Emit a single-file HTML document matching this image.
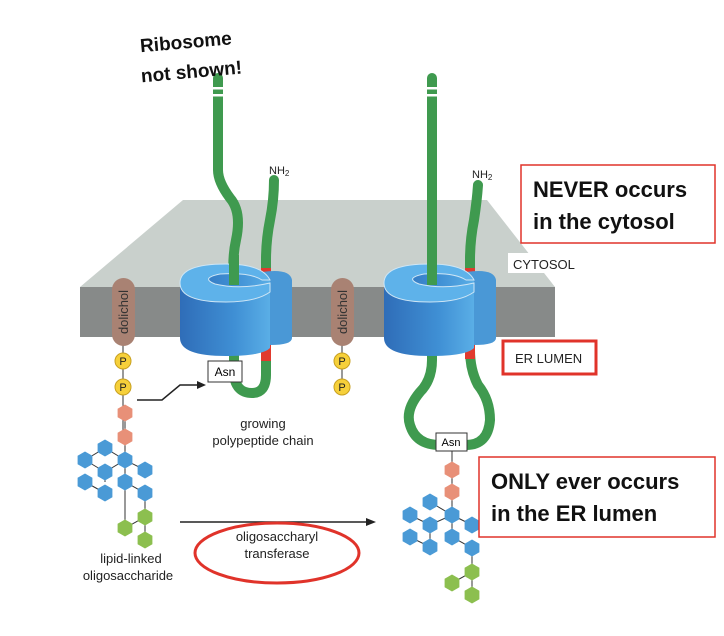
<!DOCTYPE html>
<html><head><style>
body{margin:0;background:#fff;}
svg{display:block;font-family:"Liberation Sans",sans-serif;}
</style></head><body>
<svg width="724" height="636" viewBox="0 0 724 636">
<defs>
<linearGradient id="cyl" x1="0" x2="1"><stop offset="0" stop-color="#2f6db8"/><stop offset="0.6" stop-color="#3f8fd4"/><stop offset="1" stop-color="#5aaee6"/></linearGradient>
<polygon id="hx" points="0,-8.5 7.4,-4.25 7.4,4.25 0,8.5 -7.4,4.25 -7.4,-4.25"/>
</defs>
<polygon points="80,287 183,200 487,200 555,287" fill="#c9d0cc"/>
<rect x="80" y="287" width="475" height="50" fill="#878a89"/>

<g fill="none" stroke="#3f9a4f" stroke-width="10" stroke-linecap="round">
<path d="M218,78 V170 Q218,182 230,198 Q242,212 236,240 Q232,258 234,280 V375 Q236,393 252,393 Q266,393 266,375 V260 Q266,240 270,220 Q274,200 274,180"/>
<path d="M432,78 V360 Q432,380 420,392 Q405,410 410,425 Q416,445 440,445 L466,445 Q488,445 490,420 Q490,400 478,385 Q470,370 470,350 V260 Q470,240 474,220 Q477,200 478,185"/>
</g>
<g fill="#fff"><rect x="210" y="87" width="16" height="2.5"/><rect x="210" y="94" width="16" height="2.5"/><rect x="424" y="87" width="16" height="2.5"/><rect x="424" y="94" width="16" height="2.5"/></g>
<g fill="#e03a2e"><rect x="261" y="268" width="10" height="30"/><rect x="261" y="345" width="10" height="16"/><rect x="465" y="268" width="10" height="30"/><rect x="465" y="345" width="10" height="14"/></g>

<g>
<path d="M262,272 Q290,268 292,280 V338 Q292,345 270,345 Z" fill="#4a98d6"/>
<path d="M180,283 Q180,264 226,264 Q262,264 270,280 V348 Q262,356 226,356 Q180,356 180,338 Z" fill="url(#cyl)"/>
<path d="M180,283 Q180,302 226,302 Q256,302 270,292 L270,283 Q240,290 215,284 Q200,278 220,274 Q250,272 262,280 L270,280 Q262,264 226,264 Q180,264 180,283Z" fill="#5eb2ea" stroke="#cfe6f5" stroke-width="1"/>
</g>
<g>
<path d="M466,272 Q494,268 496,280 V338 Q496,345 474,345 Z" fill="#4a98d6"/>
<path d="M384,283 Q384,264 430,264 Q466,264 474,280 V348 Q466,356 430,356 Q384,356 384,338 Z" fill="url(#cyl)"/>
<path d="M384,283 Q384,302 430,302 Q460,302 474,292 L474,283 Q444,290 419,284 Q404,278 424,274 Q454,272 466,280 L474,280 Q466,264 430,264 Q384,264 384,283Z" fill="#5eb2ea" stroke="#cfe6f5" stroke-width="1"/>
</g>
<g stroke="#3f9a4f" stroke-width="10"><line x1="234" y1="255" x2="234" y2="285"/><line x1="432" y1="255" x2="432" y2="285"/></g>

<g stroke="#333" stroke-width="1"><line x1="123" y1="340" x2="123" y2="437"/><line x1="342" y1="340" x2="342" y2="387"/><line x1="125" y1="413" x2="125" y2="528"/></g>
<rect x="112" y="278" width="23" height="68" rx="11.5" fill="#a98273"/>
<rect x="331" y="278" width="23" height="68" rx="11.5" fill="#a98273"/>
<text transform="translate(128,312) rotate(-90)" text-anchor="middle" font-size="13" fill="#333">dolichol</text>
<text transform="translate(347,312) rotate(-90)" text-anchor="middle" font-size="13" fill="#333">dolichol</text>
<g fill="#f6d03a" stroke="#c8a020"><circle cx="123" cy="361" r="8"/><circle cx="123" cy="387" r="8"/><circle cx="342" cy="361" r="8"/><circle cx="342" cy="387" r="8"/></g>
<g font-size="11" text-anchor="middle" fill="#222"><text x="123" y="365">P</text><text x="123" y="391">P</text><text x="342" y="365">P</text><text x="342" y="391">P</text></g>

<g stroke="#333" stroke-width="1" fill="none">
<path d="M85,460 L105,448 L125,460 M105,472 L85,460 M105,472 L125,460 L145,470 M85,482 L105,493 M105,472 L105,482 M125,460 L125,482 L145,493 L145,517 L125,528 M145,517 L145,540"/>
</g>
<g fill="#e89078"><use href="#hx" x="125" y="413"/><use href="#hx" x="125" y="437"/></g>
<g fill="#4a9ad6"><use href="#hx" x="85" y="460"/><use href="#hx" x="105" y="448"/><use href="#hx" x="125" y="460"/><use href="#hx" x="105" y="472"/><use href="#hx" x="145" y="470"/><use href="#hx" x="85" y="482"/><use href="#hx" x="105" y="493"/><use href="#hx" x="125" y="482"/><use href="#hx" x="145" y="493"/></g>
<g fill="#8cbf4f"><use href="#hx" x="145" y="517"/><use href="#hx" x="125" y="528"/><use href="#hx" x="145" y="540"/></g>

<g stroke="#333" stroke-width="1" fill="none">
<path d="M452,450 V515 L430,502 M452,515 L430,525 L410,515 M430,525 L430,547 L410,537 M452,515 L472,525 M452,515 V537 L472,548 V572 L452,583 M472,572 V595"/>
</g>
<g fill="#e89078"><use href="#hx" x="452" y="470"/><use href="#hx" x="452" y="492"/></g>
<g fill="#4a9ad6"><use href="#hx" x="452" y="515"/><use href="#hx" x="430" y="502"/><use href="#hx" x="410" y="515"/><use href="#hx" x="430" y="525"/><use href="#hx" x="472" y="525"/><use href="#hx" x="410" y="537"/><use href="#hx" x="430" y="547"/><use href="#hx" x="452" y="537"/><use href="#hx" x="472" y="548"/></g>
<g fill="#8cbf4f"><use href="#hx" x="472" y="572"/><use href="#hx" x="452" y="583"/><use href="#hx" x="472" y="595"/></g>

<rect x="208" y="361" width="34" height="21" fill="#fff" stroke="#333"/>
<text x="225" y="376" text-anchor="middle" font-size="12">Asn</text>
<rect x="436" y="433" width="31" height="18" fill="#fff" stroke="#333"/>
<text x="451" y="446" text-anchor="middle" font-size="11">Asn</text>

<path d="M137,400 H162 L180,385 H200" fill="none" stroke="#222" stroke-width="1.5"/>
<polygon points="206,385 197,381 197,389" fill="#222"/>

<line x1="180" y1="522" x2="368" y2="522" stroke="#222" stroke-width="1.5"/>
<polygon points="376,522 366,518 366,526" fill="#222"/>
<ellipse cx="277" cy="553" rx="82" ry="30" fill="none" stroke="#e0332a" stroke-width="3"/>
<g font-size="13" text-anchor="middle" fill="#222">
<text x="277" y="541">oligosaccharyl</text><text x="277" y="558">transferase</text>
<text x="263" y="428">growing</text><text x="263" y="445">polypeptide chain</text>
<text x="131" y="563">lipid-linked</text><text x="128" y="580">oligosaccharide</text>
</g>
<g font-size="11" fill="#222"><text x="269" y="174">NH<tspan font-size="8" dy="2">2</tspan></text><text x="472" y="178">NH<tspan font-size="8" dy="2">2</tspan></text></g>
<rect x="508" y="253" width="70" height="20" fill="#fff"/>
<text x="513" y="269" font-size="13" fill="#222">CYTOSOL</text>

<rect x="503" y="341" width="93" height="33" fill="#fff" stroke="#e0332a" stroke-width="3"/>
<text x="515" y="363" font-size="13" fill="#222">ER LUMEN</text>
<rect x="521" y="165" width="194" height="78" fill="#fff" stroke="#e0332a" stroke-width="1.5"/>
<g font-size="22" font-weight="bold" fill="#111"><text x="533" y="197">NEVER occurs</text><text x="533" y="229">in the cytosol</text></g>
<rect x="479" y="457" width="236" height="80" fill="#fff" stroke="#e0332a" stroke-width="1.5"/>
<g font-size="22" font-weight="bold" fill="#111"><text x="491" y="489">ONLY ever occurs</text><text x="491" y="521">in the ER lumen</text></g>

<g transform="rotate(-5 190 55)" font-size="19" font-weight="bold" fill="#111" text-anchor="middle">
<text x="187" y="48">Ribosome</text><text x="190" y="78">not shown!</text></g>
</svg>
</body></html>
